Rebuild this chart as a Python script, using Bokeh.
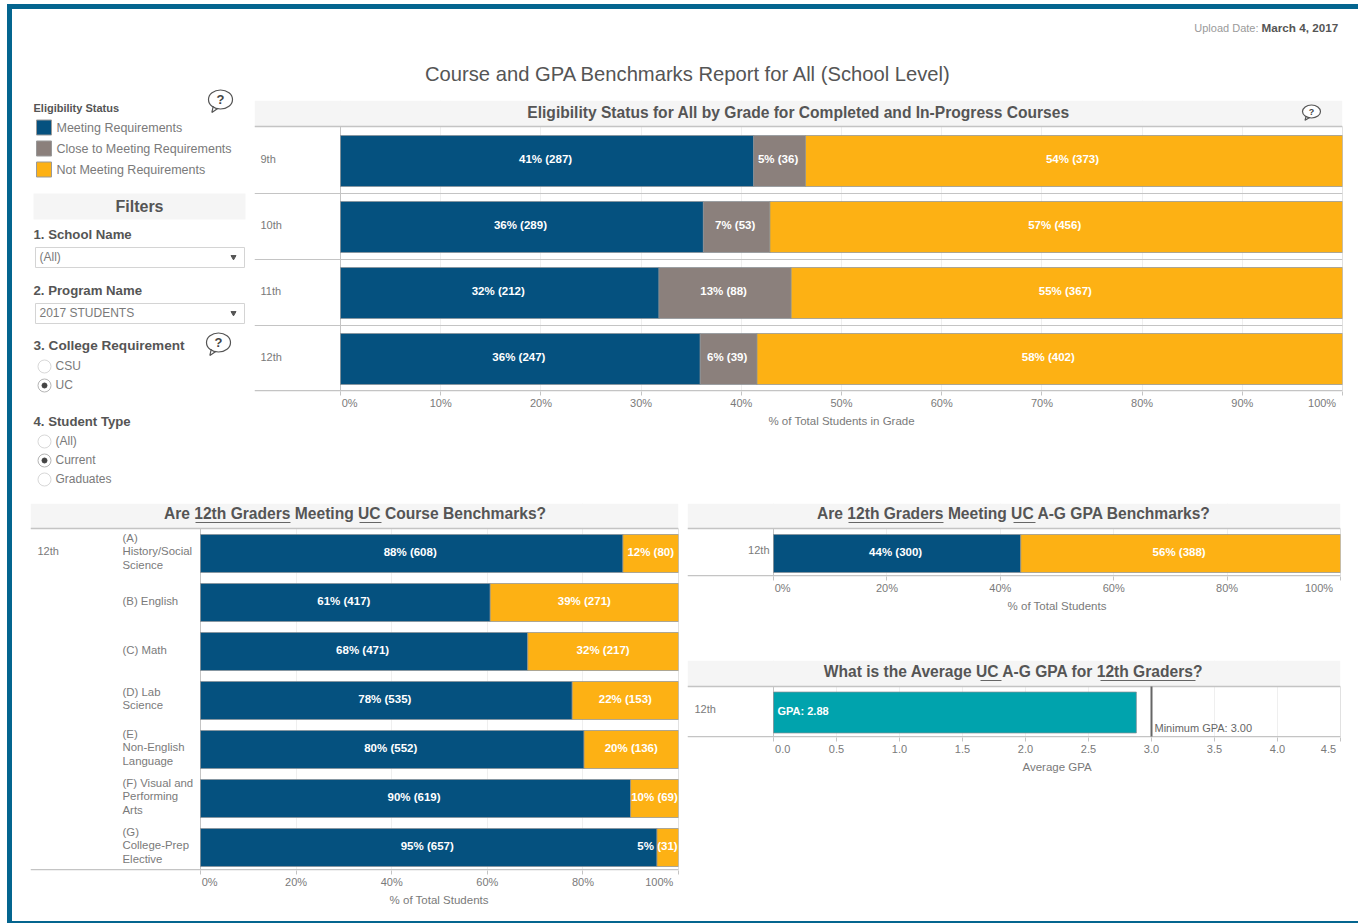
from bokeh.plotting import figure
from bokeh.layouts import column, row
from bokeh.models import Range1d, LinearAxis, FixedTicker, Grid
from bokeh.core.properties import value
from bokeh.embed import file_html
from bokeh.resources import INLINE

# ---- data ----
grades = ["9th", "10th", "11th", "12th"]
grade_meeting = [287, 289, 212, 247]
grade_close = [36, 53, 88, 39]
grade_not = [373, 456, 367, 402]
grade_meeting_pct = [41, 36, 32, 36]
grade_close_pct = [5, 7, 13, 6]
grade_not_pct = [54, 57, 55, 58]

subjects = ["(A)\nHistory/Social\nScience", "(B) English", "(C) Math", "(D) Lab\nScience",
            "(E)\nNon-English\nLanguage", "(F) Visual and\nPerforming\nArts", "(G)\nCollege-Prep\nElective"]
subject_meeting = [608, 417, 471, 535, 552, 619, 657]
subject_not = [80, 271, 217, 153, 136, 69, 31]
subject_meeting_pct = [88, 61, 68, 78, 80, 90, 95]
subject_not_pct = [12, 39, 32, 22, 20, 10, 5]

gpa_bench_meeting, gpa_bench_not = [300], [388]
gpa_bench_meeting_pct, gpa_bench_not_pct = [44], [56]
average_gpa = [2.88]
minimum_gpa = [3.00]

legend_items = ["Meeting Requirements", "Close to Meeting Requirements", "Not Meeting Requirements"]
pct_ticks_10 = [0, 10, 20, 30, 40, 50, 60, 70, 80, 90, 100]
pct_ticks_20 = [0, 20, 40, 60, 80, 100]
gpa_ticks = [0, 0.5, 1, 1.5, 2, 2.5, 3, 3.5, 4, 4.5]

# ---- style ----
FONT = "Liberation Sans"
NAVY, GRAY, AMBER, TEAL = "#05517f", "#8b807c", "#fdb114", "#00a3ad"
EDGE = "#8a9096"
TXT, TXT2, RULE, STRIP = "#555555", "#7a7a7a", "#c4c4c4", "#f5f5f5"
BORDER = "#04658f"
NB = "\u00a0"


def txt(p, x, y, s, size=11, color=TXT2, align="left", style="normal"):
    p.text(x=[x], y=[y], text=[s], text_font=value(FONT), text_font_size=f"{size}px",
           text_color=color, text_align=align, text_baseline="middle", text_font_style=style,
           text_line_height=1.13)


def bubble(p, X, Y, cx, cy, w, h, sx=1.0, sy=1.0):
    p.ellipse(x=[X(cx)], y=[Y(cy)], width=[w / sx], height=[h / sy], fill_color="white",
              line_color="#555555", line_width=1.2)
    p.line(x=[X(cx - w * 0.3), X(cx - w * 0.36), X(cx - w * 0.1)],
           y=[Y(cy + h * 0.35), Y(cy + h * 0.68), Y(cy + h * 0.46)], line_color="#555555", line_width=1.2)
    txt(p, X(cx), Y(cy), "?", int(h * 0.72), "#444444", "center", "bold")


def base(width, height, xr, yr, left=0, right=0, bottom=0, top=0):
    p = figure(width=width, height=height, x_range=Range1d(*xr), y_range=Range1d(*yr),
               x_axis_type=None, y_axis_type=None, toolbar_location=None, output_backend="svg",
               min_border_left=left, min_border_right=right, min_border_top=top, min_border_bottom=bottom,
               frame_align=False)
    p.grid.visible = False
    p.outline_line_color = None
    p.background_fill_color = "white"
    p.border_fill_color = "white"
    return p


def panel(fig_left, fig_right, frame_left, frame_right, zero_px, full_px, full_value,
          top, axis_y, rule_y, row0, pitch, height, ticks, axis_title, fmt, bottom, end_pad, fig_top=0):
    sx = (full_px - zero_px) / full_value
    X = lambda px: (px - zero_px) / sx
    Y = lambda py: (py - row0) / pitch
    p = base(fig_right - fig_left, height, (X(frame_left), X(frame_right)), (Y(axis_y), Y(top)),
             left=frame_left - fig_left, right=fig_right - frame_right, bottom=bottom, top=fig_top)
    p.add_layout(Grid(dimension=0, ticker=FixedTicker(ticks=ticks), grid_line_color="#efefef",
                      bounds=(0, full_value)))
    p.quad(left=[X(frame_left)], right=[X(frame_right)], top=[Y(top)], bottom=[Y(rule_y)],
           fill_color=STRIP, line_color=None)
    p.segment(x0=[X(frame_left)], x1=[X(frame_right)], y0=[Y(rule_y)], y1=[Y(rule_y)],
              line_color=RULE, line_width=1.5)
    p.segment(x0=[X(frame_left)], x1=[X(frame_right)], y0=[Y(axis_y - 0.8)], y1=[Y(axis_y - 0.8)],
              line_color=RULE, line_width=1.5)
    p.segment(x0=[0, full_value], x1=[0, full_value], y0=[Y(rule_y)] * 2, y1=[Y(axis_y)] * 2,
              line_color=RULE, line_width=1)
    overrides = {t: fmt(t) for t in ticks}
    # end labels sit inside the ticks, as in the report
    overrides[ticks[0]] = NB * 6 + fmt(ticks[0])
    overrides[ticks[-1]] = fmt(ticks[-1]) + NB * end_pad
    # the axis title is centred on the bars rather than on the whole frame
    shift = ((zero_px + full_px) - (frame_left + frame_right)) / 2
    title = NB * round(2 * shift / (0.278 * 11.5)) + axis_title
    ax = LinearAxis(ticker=FixedTicker(ticks=ticks), bounds=(0, full_value), axis_label=title,
                    major_label_overrides=overrides, axis_line_color=None, major_tick_in=0,
                    major_tick_out=4, major_tick_line_color=RULE, minor_tick_line_color=None,
                    major_label_text_font=FONT, major_label_text_font_size="11px",
                    major_label_text_color=TXT2, major_label_standoff=1,
                    axis_label_text_font=FONT, axis_label_text_font_size="11.5px",
                    axis_label_text_color=TXT2, axis_label_text_font_style="normal",
                    axis_label_standoff=3)
    p.add_layout(ax, "below")
    return p, X, Y, sx


def pct(t):
    return f"{t}%"


def stacked(p, rows, series, colors, bar_h):
    """series: list of counts lists; stacked as percent of each row's total."""
    totals = [sum(s[i] for s in series) for i in range(len(rows))]
    lefts = [0.0] * len(rows)
    out = []
    for s, c in zip(series, colors):
        rights = [l + 100.0 * v / t for l, v, t in zip(lefts, s, totals)]
        p.hbar(y=rows, left=lefts, right=rights, height=bar_h, fill_color=c,
               line_color=EDGE, line_width=0.7)
        out.append((lefts, rights))
        lefts = rights
    return out


def labels(p, rows, xs, pcts, counts, y_shift, clamp=None):
    strs = [f"{a}% ({b})" for a, b in zip(pcts, counts)]
    if clamp:
        xs = [min(x, clamp(s)) for x, s in zip(xs, strs)]
    p.text(x=xs, y=[r + y_shift for r in rows], text=strs, text_font=value(FONT), text_font_size="11.5px",
           text_font_style="bold", text_color="white", text_align="center", text_baseline="middle")


# ---- header ----
head = base(1342, 76, (12, 1354), (85, 9))
txt(head, 688, 73.5, "Course and GPA Benchmarks Report for All (School Level)", 20.2, TXT, "center")
txt(head, 1258, 27, "Upload Date:", 11, "#9a9a9a", "right")
txt(head, 1261, 27, "March 4, 2017", 11.7, TXT, "left", "bold")

# ---- left controls ----
side = base(242, 418, (12, 254), (503, 85))
ident = lambda v: v
bubble(side, ident, ident, 220, 99, 24, 19)
txt(side, 33, 107, "Eligibility Status", 11, TXT, "left", "bold")
for name, colr, cy in zip(legend_items, [NAVY, GRAY, AMBER], [127, 148, 169]):
    side.quad(left=[36], right=[51], top=[cy - 7.5], bottom=[cy + 7.5], fill_color=colr, line_color="#999999")
    txt(side, 56, cy, name, 12.5, TXT2)
side.quad(left=[33], right=[245], top=[193], bottom=[219], fill_color=STRIP, line_color=None)
txt(side, 139, 206, "Filters", 16, TXT, "center", "bold")
txt(side, 33, 233.5, "1. School Name", 13.2, TXT, "left", "bold")
txt(side, 33, 289.5, "2. Program Name", 13.2, TXT, "left", "bold")
txt(side, 33, 344.5, "3. College Requirement", 13.6, TXT, "left", "bold")
txt(side, 33, 420.5, "4. Student Type", 13.2, TXT, "left", "bold")
for top_y, s in ((247, "(All)"), (303, "2017 STUDENTS")):
    side.quad(left=[35], right=[244], top=[top_y], bottom=[top_y + 20], fill_color="white", line_color="#d4d4d4")
    txt(side, 39, top_y + 9, s, 12, TXT2)
    side.scatter(x=[233], y=[top_y + 9.5], marker="inverted_triangle", size=5, color="#555555")
bubble(side, ident, ident, 218, 342, 24, 19)
for cy, s, on in ((366, "CSU", False), (385, "UC", True), (441, "(All)", False),
                  (460, "Current", True), (479, "Graduates", False)):
    side.scatter(x=[44], y=[cy], marker="circle", size=13, fill_color="white",
                 line_color="#b5b5b5" if on else "#d8d8d8")
    if on:
        side.scatter(x=[44], y=[cy], marker="circle", size=5, color="#444444")
    txt(side, 55, cy - 0.5, s, 12, TXT2)

# ---- eligibility by grade ----
top_p, X, Y, sx = panel(254, 1354, 254, 1342, 340, 1342, 100, 100, 391, 126, 160.5, 66, 418,
                        pct_ticks_10, "% of Total Students in Grade", pct, 112, 6, fig_top=15)
rows = list(range(len(grades)))
parts = stacked(top_p, rows, [grade_meeting, grade_close, grade_not], [NAVY, GRAY, AMBER], 51 / 66)
for (l, r), pc, ct in zip(parts, [grade_meeting_pct, grade_close_pct, grade_not_pct],
                          [grade_meeting, grade_close, grade_not]):
    labels(top_p, rows, [(a + b) / 2 - 1.5 / sx for a, b in zip(l, r)], pc, ct, -2 / 66)
top_p.segment(x0=[X(254)] * 3, x1=[X(1342)] * 3, y0=[Y(193), Y(259), Y(325)], y1=[Y(193), Y(259), Y(325)],
              line_color=RULE, line_width=1.2)
for r, g in zip(rows, grades):
    txt(top_p, X(260), r - 2.5 / 66, g, 11)
txt(top_p, X(798), Y(111.5), "Eligibility Status for All by Grade for Completed and In-Progress Courses",
    15.6, TXT, "center", "bold")
bubble(top_p, X, Y, 1311, 111, 18, 13, sx, 66)

# ---- course benchmarks ----
left_p, X, Y, sx = panel(12, 682, 30, 678, 200, 678, 100, 503, 870, 528, 553, 49, 412,
                         pct_ticks_20, "% of Total Students", pct, 45, 3)
rows = list(range(len(subjects)))
parts = stacked(left_p, rows, [subject_meeting, subject_not], [NAVY, AMBER], 38 / 49)
l, r = parts[0]
labels(left_p, rows, [(a + b) / 2 - 1.5 / sx for a, b in zip(l, r)], subject_meeting_pct, subject_meeting, -2 / 49)
l, r = parts[1]
labels(left_p, rows, [(a + b) / 2 for a, b in zip(l, r)], subject_not_pct, subject_not, -2 / 49,
       clamp=lambda s: X(678 - 3.0 * len(s)))
for r_, s in zip(rows, subjects):
    txt(left_p, X(122), r_ - 2 / 49, s, 11.4)
txt(left_p, X(37), Y(550.5), "12th", 11)
txt(left_p, X(354.5), Y(513), "Are 12th Graders Meeting UC Course Benchmarks?", 15.6, TXT, "center", "bold")
left_p.segment(x0=[X(195), X(359)], x1=[X(290), X(381)], y0=[Y(522)] * 2, y1=[Y(522)] * 2, line_color="#666666")

# ---- GPA benchmark ----
ga, X, Y, sx = panel(682, 1354, 687, 1340, 773, 1340, 100, 503, 576, 528, 553, 49, 157,
                     pct_ticks_20, "% of Total Students", pct, 84, 7)
parts = stacked(ga, [0], [gpa_bench_meeting, gpa_bench_not], [NAVY, AMBER], 38 / 49)
for (l, r), pc, ct in zip(parts, [gpa_bench_meeting_pct, gpa_bench_not_pct], [gpa_bench_meeting, gpa_bench_not]):
    labels(ga, [0], [(a + b) / 2 - 1.5 / sx for a, b in zip(l, r)], pc, ct, -2 / 49)
txt(ga, X(769), Y(549.5), "12th", 11, TXT2, "right")
txt(ga, X(1013.5), Y(513), "Are 12th Graders Meeting UC A-G GPA Benchmarks?", 15.6, TXT, "center", "bold")
ga.segment(x0=[X(848), X(1013)], x1=[X(943), X(1035)], y0=[Y(522)] * 2, y1=[Y(522)] * 2, line_color="#666666")

# ---- average GPA ----
gb, X, Y, sx = panel(682, 1354, 687, 1340, 773, 1340, 4.5, 660, 737, 686, 712, 41, 140,
                     gpa_ticks, "Average GPA", lambda t: f"{t:.1f}", 63, 6)
gb.hbar(y=[0], left=[0], right=average_gpa, height=1.0, fill_color=TEAL, line_color=EDGE, line_width=0.7)
gb.segment(x0=minimum_gpa, x1=minimum_gpa, y0=[Y(686)], y1=[Y(736)], line_color="#666666", line_width=2)
txt(gb, X(777), Y(710), f"GPA: {average_gpa[0]:.2f}", 11, "white", "left", "bold")
txt(gb, X(1154), Y(727.5), f"Minimum GPA: {minimum_gpa[0]:.2f}", 11, "#666666")
txt(gb, X(694), Y(708.5), "12th", 11)
txt(gb, X(1013.5), Y(671), "What is the Average UC A-G GPA for 12th Graders?", 15.6, TXT, "center", "bold")
gb.segment(x0=[X(980), X(1100)], x1=[X(1001), X(1195)], y0=[Y(680)] * 2, y1=[Y(680)] * 2, line_color="#666666")

inner = column(head, row(side, top_p), row(left_p, column(ga, gb)), margin=(9, 4, 0, 12))
bg = lambda x, y, w, h: f"linear-gradient({BORDER},{BORDER}) {x}px {y}px/{w}px {h}px no-repeat"
page = column(inner, width=1358, height=923, margin=0,
              styles={"background": ",".join([bg(7, 4, 5, 919), bg(7, 4, 1351, 5), bg(7, 921, 1351, 2)])})

open("out.html", "w").write(file_html(page, INLINE))
